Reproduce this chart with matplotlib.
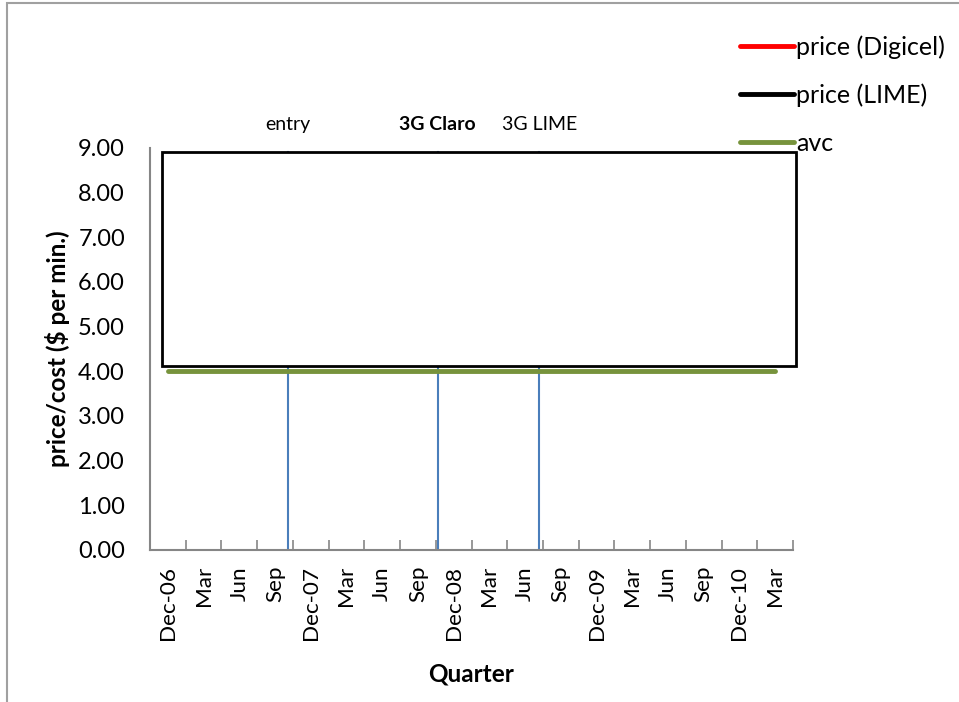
import numpy as np
import matplotlib
matplotlib.use("Agg")
import matplotlib.pyplot as plt
from matplotlib.lines import Line2D
from matplotlib.patches import Rectangle

plt.rcParams['font.family'] = ['Lato', 'DejaVu Sans']

# data
quarters = ['Dec-06', 'Mar', 'Jun', 'Sep', 'Dec-07', 'Mar', 'Jun', 'Sep', 'Dec-08',
            'Mar', 'Jun', 'Sep', 'Dec-09', 'Mar', 'Jun', 'Sep', 'Dec-10', 'Mar']
avc = [4.0] * len(quarters)
event_labels = ['entry', '3G Claro', '3G LIME']
event_pos = [3.37, 7.55, 10.40]   # in category units (0 = Dec-06)
legend_labels = ['price (Digicel)', 'price (LIME)', 'avc']
legend_colors = ['#FF0000', '#000000', '#77933C']
yticks = np.arange(0, 10, 1.0)

fig = plt.figure(figsize=(9.59, 7.02), dpi=100)
ax = fig.add_axes([150/959, 1-550/702, 643/959, 402/702])

x = np.arange(len(quarters))
ax.plot(x, avc, color='#77933C', lw=3.5, solid_capstyle='round', zorder=3)

for p in event_pos:
    ax.plot([p, p], [0, 8.9], color='#4A7EBB', lw=1.5, zorder=2)
for p, lab in zip(event_pos, event_labels):
    ax.text(p, 9.52, lab, ha='center', va='center', fontsize=14,
            fontweight='bold' if lab == '3G Claro' else 'normal')

# white box covering the upper part of the plot
box = Rectangle((-0.17, 4.12), 17.76, 4.8, facecolor='white', edgecolor='black',
                lw=2, zorder=5, clip_on=False)
ax.add_patch(box)

ax.set_xlim(-0.5, len(quarters) - 0.5)
ax.set_ylim(0, 9)
ax.set_yticks(yticks)
ax.set_yticklabels([f'{v:.2f}' for v in yticks], fontsize=17)
ax.tick_params(axis='y', length=0, pad=18)
ax.set_xticks(x)
ax.set_xticklabels(quarters, rotation=90, fontsize=16.2)
ax.tick_params(axis='x', length=0, pad=11.5)
ax.set_xticks(np.arange(-0.5, len(quarters)), minor=True)
ax.tick_params(axis='x', which='minor', direction='in', length=7, color='#868686', width=1.2)

for s in ['top', 'right']:
    ax.spines[s].set_visible(False)
for s in ['left', 'bottom']:
    ax.spines[s].set_color('#868686')
    ax.spines[s].set_linewidth(1.5)

ax.set_ylabel('price/cost ($ per min.)', fontsize=17.5, fontweight='bold')
ax.yaxis.set_label_coords(-0.124, 0.5)
ax.set_xlabel('Quarter', fontsize=17.5, fontweight='bold')
ax.xaxis.set_label_coords(0.5, -0.28)

handles = [Line2D([], [], color=c, lw=3.5, solid_capstyle='round') for c in legend_colors]
fig.legend(handles, legend_labels, loc='upper left', bbox_to_anchor=(730/959, 1-25/702),
           frameon=False, fontsize=18, handlelength=2.15, handletextpad=0.1,
           labelspacing=1.0, borderaxespad=0)

# outer chart border
fig.add_artist(Rectangle((7/959, -0.1), 1.1, 1-3/702+0.1, transform=fig.transFigure,
                         fill=False, edgecolor='#A0A0A0', lw=1.5))

fig.savefig('out.png', dpi=100)
